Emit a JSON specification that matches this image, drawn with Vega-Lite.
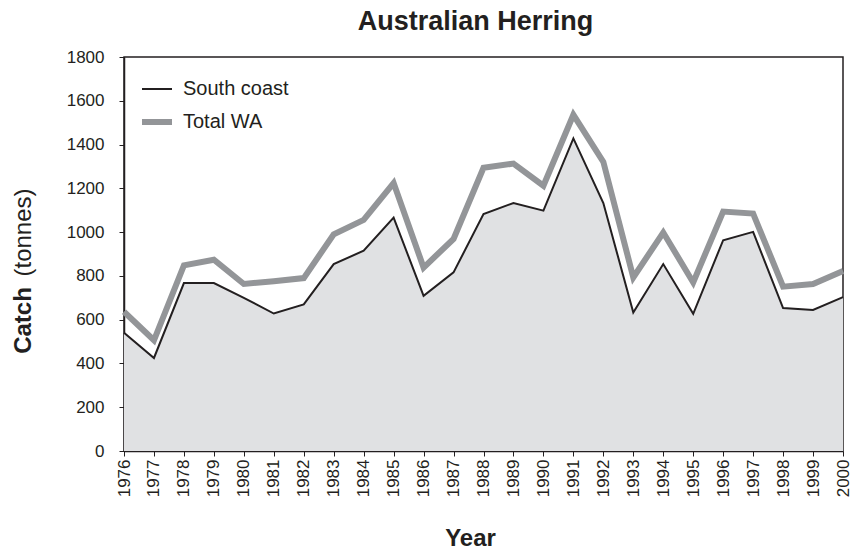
{
  "$schema": "https://vega.github.io/schema/vega-lite/v6.json",
  "width": 719,
  "height": 394,
  "autosize": {"type": "none"},
  "padding": {"left": 124, "top": 57, "right": 7, "bottom": 103},
  "background": "white",
  "config": {
    "font": "Liberation Sans",
    "view": {"stroke": "#231f20", "strokeWidth": 1.5}
  },
  "title": {
    "text": "Australian Herring",
    "fontSize": 27,
    "fontWeight": "bold",
    "color": "#231f20",
    "anchor": "middle",
    "offset": 12,
    "dx": -8
  },
  "data": {
    "values": [
      {"year": 1976, "series": "South coast", "catch": 540},
      {"year": 1977, "series": "South coast", "catch": 425},
      {"year": 1978, "series": "South coast", "catch": 767},
      {"year": 1979, "series": "South coast", "catch": 767},
      {"year": 1980, "series": "South coast", "catch": 700},
      {"year": 1981, "series": "South coast", "catch": 628},
      {"year": 1982, "series": "South coast", "catch": 670},
      {"year": 1983, "series": "South coast", "catch": 854},
      {"year": 1984, "series": "South coast", "catch": 915},
      {"year": 1985, "series": "South coast", "catch": 1066},
      {"year": 1986, "series": "South coast", "catch": 709},
      {"year": 1987, "series": "South coast", "catch": 816},
      {"year": 1988, "series": "South coast", "catch": 1082},
      {"year": 1989, "series": "South coast", "catch": 1133},
      {"year": 1990, "series": "South coast", "catch": 1098},
      {"year": 1991, "series": "South coast", "catch": 1428},
      {"year": 1992, "series": "South coast", "catch": 1133},
      {"year": 1993, "series": "South coast", "catch": 633},
      {"year": 1994, "series": "South coast", "catch": 854},
      {"year": 1995, "series": "South coast", "catch": 627},
      {"year": 1996, "series": "South coast", "catch": 963},
      {"year": 1997, "series": "South coast", "catch": 1001},
      {"year": 1998, "series": "South coast", "catch": 653},
      {"year": 1999, "series": "South coast", "catch": 644},
      {"year": 2000, "series": "South coast", "catch": 703},
      {"year": 1976, "series": "Total WA", "catch": 636},
      {"year": 1977, "series": "Total WA", "catch": 506},
      {"year": 1978, "series": "Total WA", "catch": 848},
      {"year": 1979, "series": "Total WA", "catch": 874},
      {"year": 1980, "series": "Total WA", "catch": 763},
      {"year": 1981, "series": "Total WA", "catch": 776},
      {"year": 1982, "series": "Total WA", "catch": 790},
      {"year": 1983, "series": "Total WA", "catch": 990},
      {"year": 1984, "series": "Total WA", "catch": 1056},
      {"year": 1985, "series": "Total WA", "catch": 1224},
      {"year": 1986, "series": "Total WA", "catch": 838},
      {"year": 1987, "series": "Total WA", "catch": 969},
      {"year": 1988, "series": "Total WA", "catch": 1294},
      {"year": 1989, "series": "Total WA", "catch": 1313},
      {"year": 1990, "series": "Total WA", "catch": 1212},
      {"year": 1991, "series": "Total WA", "catch": 1536},
      {"year": 1992, "series": "Total WA", "catch": 1321},
      {"year": 1993, "series": "Total WA", "catch": 793},
      {"year": 1994, "series": "Total WA", "catch": 998},
      {"year": 1995, "series": "Total WA", "catch": 770},
      {"year": 1996, "series": "Total WA", "catch": 1094},
      {"year": 1997, "series": "Total WA", "catch": 1085},
      {"year": 1998, "series": "Total WA", "catch": 751},
      {"year": 1999, "series": "Total WA", "catch": 763},
      {"year": 2000, "series": "Total WA", "catch": 822}
    ]
  },
  "encoding": {
    "x": {
      "field": "year",
      "type": "quantitative",
      "scale": {"domain": [1976, 2000], "nice": false, "zero": false},
      "axis": {
        "values": [1976,1977,1978,1979,1980,1981,1982,1983,1984,1985,1986,1987,1988,1989,1990,1991,1992,1993,1994,1995,1996,1997,1998,1999,2000],
        "format": "d",
        "labelAngle": 270,
        "labelAlign": "right",
        "labelBaseline": "middle",
        "labelFontSize": 17,
        "labelColor": "#231f20",
        "labelPadding": 3,
        "labelOverlap": false,
        "labelFlush": false,
        "labelBound": false,
        "tickSize": 5,
        "tickColor": "#231f20",
        "domainColor": "#231f20",
        "domainWidth": 1.5,
        "grid": false,
        "title": "Year",
        "titleFontSize": 24,
        "titleFontWeight": "bold",
        "titleColor": "#231f20",
        "titleBaseline": "middle",
        "titleX": 346,
        "titleY": 87
      }
    }
  },
  "layer": [
    {
      "transform": [{"filter": "datum.series === 'South coast'"}],
      "mark": {"type": "area", "color": "#e0e1e3"},
      "encoding": {
        "y": {
          "field": "catch",
          "type": "quantitative",
          "scale": {"domain": [0, 1800], "nice": false},
          "axis": {
            "values": [0,200,400,600,800,1000,1200,1400,1600,1800],
            "format": "d",
            "labelFontSize": 17,
            "labelColor": "#231f20",
            "labelPadding": 15,
            "tickSize": 5,
            "tickColor": "#231f20",
            "domainColor": "#231f20",
            "domainWidth": 1.5,
            "grid": false,
            "title": "Catch",
            "titleFontSize": 24,
            "titleFontWeight": "bold",
            "titleColor": "#231f20",
            "titleAngle": 270,
            "titleAlign": "center",
            "titleBaseline": "middle",
            "titleX": -101,
            "titleY": 263
          }
        }
      }
    },
    {
      "mark": {"type": "line", "strokeJoin": "miter"},
      "encoding": {
        "y": {
          "field": "catch",
          "type": "quantitative",
          "scale": {"domain": [0, 1800], "nice": false},
          "axis": {
            "orient": "left",
            "labels": false,
            "ticks": false,
            "domain": false,
            "grid": false,
            "title": "(tonnes)",
            "titleFontSize": 24,
            "titleFontWeight": "normal",
            "titleColor": "#231f20",
            "titleAngle": 270,
            "titleAlign": "center",
            "titleBaseline": "middle",
            "titleX": -101,
            "titleY": 175
          }
        },
        "color": {
          "field": "series",
          "type": "nominal",
          "scale": {"domain": ["South coast", "Total WA"], "range": ["#231f20", "#939598"]},
          "legend": {
            "orient": "none",
            "legendX": 15,
            "legendY": 16,
            "title": null,
            "symbolType": "stroke",
            "symbolSize": 900,
            "labelFontSize": 20,
            "labelColor": "#231f20",
            "labelOffset": 8,
            "rowPadding": 5
          }
        },
        "strokeWidth": {
          "field": "series",
          "type": "nominal",
          "scale": {"domain": ["South coast", "Total WA"], "range": [2, 6]},
          "legend": {
            "orient": "none",
            "legendX": 15,
            "legendY": 16,
            "title": null,
            "symbolType": "stroke",
            "symbolSize": 900,
            "labelFontSize": 20,
            "labelColor": "#231f20",
            "labelOffset": 8,
            "rowPadding": 5
          }
        }
      }
    }
  ],
  "resolve": {"scale": {"y": "independent"}}
}
